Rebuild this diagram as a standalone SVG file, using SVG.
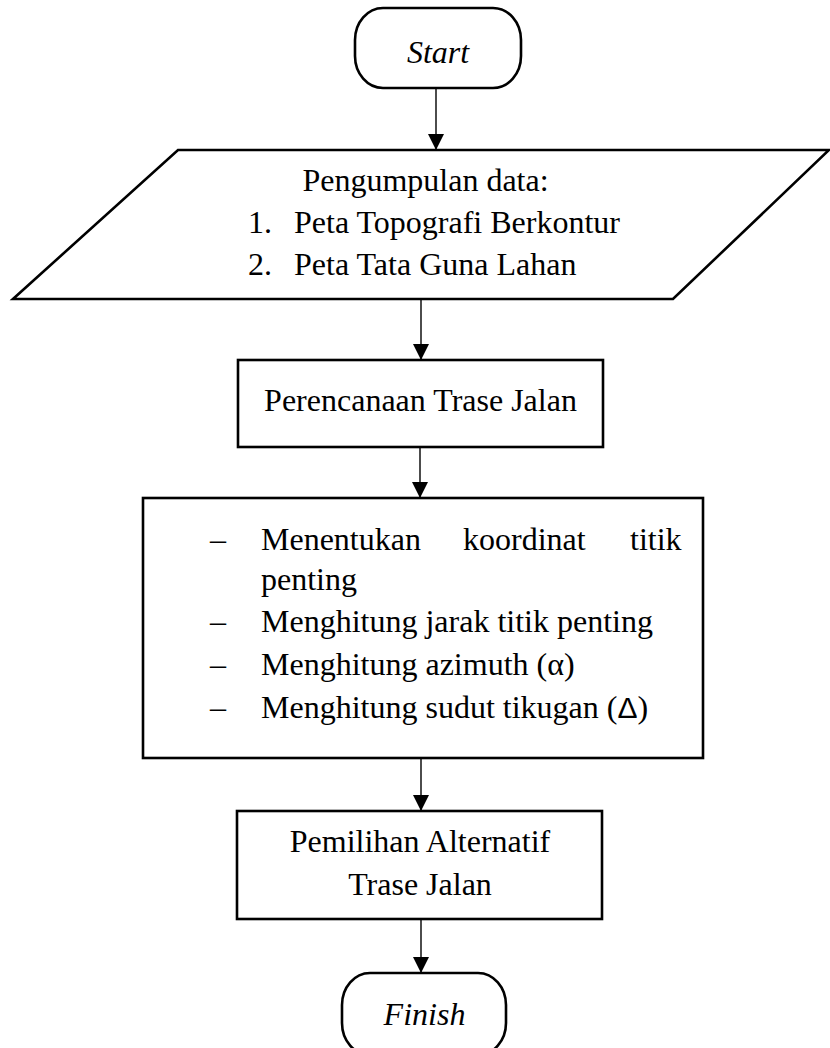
<svg xmlns="http://www.w3.org/2000/svg" width="830" height="1048" viewBox="0 0 830 1048">
<defs>
<style>
.shape{fill:#fff;stroke:#000;stroke-width:2.6}
.t{font-family:"Liberation Serif","Times New Roman",serif;font-size:32px;fill:#000}
.c{text-anchor:middle}
.i{font-style:italic}
.conn line{stroke:#000;stroke-width:1.4}
</style>
<marker id="ah" markerWidth="16" markerHeight="16" viewBox="0 0 16 16" refX="16" refY="8" orient="auto" markerUnits="userSpaceOnUse">
<path d="M0,0 L16,8 L0,16 Z" fill="#000"/>
</marker>
</defs>
<rect width="830" height="1048" fill="#fff"/>
<g id="connectors" class="conn">
<line x1="436" y1="88" x2="436" y2="150" marker-end="url(#ah)"/>
<line x1="421" y1="299" x2="421" y2="360" marker-end="url(#ah)"/>
<line x1="420" y1="447" x2="420" y2="498" marker-end="url(#ah)"/>
<line x1="421" y1="758" x2="421" y2="811" marker-end="url(#ah)"/>
<line x1="421" y1="919" x2="421" y2="973" marker-end="url(#ah)"/>
</g>
<g id="start">
<rect class="shape" x="355" y="8" width="166" height="80" rx="28" ry="32"/>
<text class="t c i" x="438" y="63">Start</text>
</g>
<g id="input-data">
<polygon class="shape" points="178,150 829,150 673,299 13,299"/>
<text class="t c" x="425.5" y="191">Pengumpulan data:</text>
<text class="t" x="248" y="233">1.</text>
<text class="t" x="294" y="233">Peta Topografi Berkontur</text>
<text class="t" x="248" y="275">2.</text>
<text class="t" x="294" y="275">Peta Tata Guna Lahan</text>
</g>
<g id="perencanaan">
<rect class="shape" x="238" y="360" width="365" height="87"/>
<text class="t c" x="420.5" y="411">Perencanaan Trase Jalan</text>
</g>
<g id="perhitungan">
<rect class="shape" x="143" y="498" width="560" height="260"/>
<text class="t" x="210" y="550">–</text>
<text class="t" x="261" y="550">Menentukan</text>
<text class="t" x="463" y="550">koordinat</text>
<text class="t" x="630" y="550">titik</text>
<text class="t" x="261" y="590">penting</text>
<text class="t" x="210" y="632">–</text>
<text class="t" x="261" y="632">Menghitung jarak titik penting</text>
<text class="t" x="210" y="675">–</text>
<text class="t" x="261" y="675">Menghitung azimuth (α)</text>
<text class="t" x="210" y="718">–</text>
<text class="t" x="261" y="718">Menghitung sudut tikugan (<tspan font-family="Liberation Sans, Arial, sans-serif" font-size="30">Δ</tspan>)</text>
</g>
<g id="pemilihan">
<rect class="shape" x="237" y="811" width="365" height="108"/>
<text class="t c" x="420" y="852">Pemilihan Alternatif</text>
<text class="t c" x="420" y="895">Trase Jalan</text>
</g>
<g id="finish">
<rect class="shape" x="342" y="973" width="164" height="82" rx="28" ry="32"/>
<text class="t c i" x="424.5" y="1025">Finish</text>
</g>
</svg>
